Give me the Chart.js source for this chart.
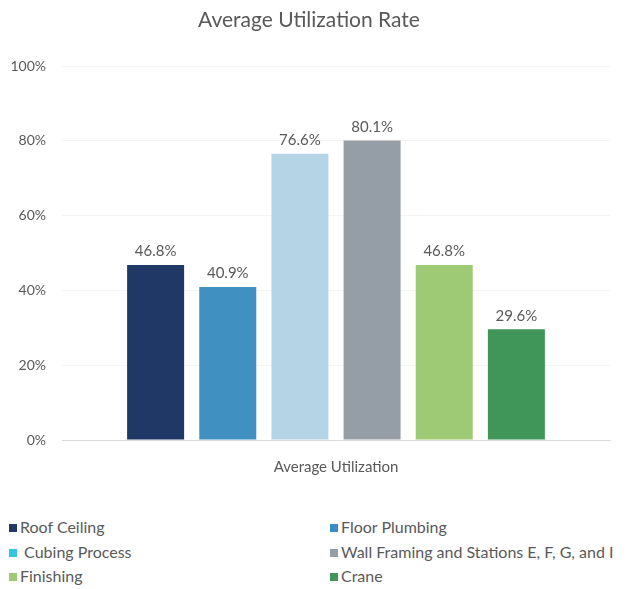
<!DOCTYPE html>
<html>
<head>
<meta charset="utf-8">
<script src="https://cdn.jsdelivr.net/npm/chart.js@4"></script>
<style>
  body { margin: 0; background: #fff; font-family: Lato, "Open Sans", sans-serif; }
  #wrap { position: relative; width: 636px; height: 589px; }
  #chartBox { position: absolute; left: 0; top: 0; width: 636px; height: 486px; }
  #legend { position: absolute; left: 0; top: 518px; width: 636px; }
  .item { position: absolute; font-size: 16px; color: #595959; white-space: nowrap; line-height: 18px; }
  .item span.sw { display: inline-block; width: 8px; height: 8px; margin-right: 3px; vertical-align: 1px; }
</style>
</head>
<body>
<div id="wrap">
  <div id="chartBox"><canvas id="utilChart"></canvas></div>
  <div id="legend"></div>
</div>
<script>
var categories = ['Average Utilization'];
var seriesNames = ['Roof Ceiling', 'Floor Plumbing', ' Cubing Process', 'Wall Framing and Stations E, F, G, and I', 'Finishing', 'Crane'];
var seriesValues = [46.8, 40.9, 76.6, 80.1, 46.8, 29.6];
var yTicks = [0, 20, 40, 60, 80, 100];

var barColors = ['#1f3866', '#4190c2', '#b5d5e7', '#959ea7', '#9fca75', '#3f9658'];
var legendColors = ['#1f3866', '#3a8cc4', '#35c3e6', '#959ea7', '#9fca75', '#3f9658'];

var textGray = '#595959';

// values above each bar
const barLabels = {
    id: 'barLabels',
    afterDatasetsDraw(chart) {
        const ctx = chart.ctx;
        ctx.save();
        ctx.font = '15px Lato, "Open Sans", sans-serif';
        ctx.fillStyle = textGray;
        ctx.textAlign = 'center';
        ctx.textBaseline = 'bottom';
        chart.data.datasets.forEach((ds, i) => {
            const bar = chart.getDatasetMeta(i).data[0];
            ctx.fillText(ds.data[0].toFixed(1) + '%', bar.x, bar.y - 6);
        });
        ctx.restore();
    }
};

const datasets = seriesNames.map((name, i) => ({
    label: name,
    data: [seriesValues[i]],
    backgroundColor: barColors[i],
    categoryPercentage: 0.79,
    barPercentage: 0.79
}));

const chart = new Chart(document.getElementById('utilChart').getContext('2d'), {
    type: 'bar',
    data: { labels: categories, datasets: datasets },
    options: {
        responsive: true,
        maintainAspectRatio: false,
        animation: false,
        layout: { padding: { left: 8, right: 26, top: 0, bottom: 0 } },
        plugins: {
            legend: { display: false },
            tooltip: { enabled: false },
            title: {
                display: true,
                text: 'Average Utilization Rate',
                color: textGray,
                font: { family: 'Lato, "Open Sans", sans-serif', size: 21, weight: 'normal' },
                padding: { top: 8, bottom: 33 }
            }
        },
        scales: {
            x: {
                grid: { display: false },
                border: { color: '#d9d9d9', width: 1 },
                ticks: {
                    color: textGray,
                    padding: 10,
                    font: { family: 'Lato, "Open Sans", sans-serif', size: 15 }
                }
            },
            y: {
                min: 0,
                max: 100,
                afterBuildTicks: (axis) => { axis.ticks = yTicks.map(v => ({ value: v })); },
                afterFit: (axis) => { axis.width = 54; },
                grid: { color: '#f6f3ee', drawTicks: false },
                border: { display: false },
                ticks: {
                    color: textGray,
                    padding: 16,
                    font: { family: 'Lato, "Open Sans", sans-serif', size: 14 },
                    callback: (v) => v + '%'
                }
            }
        }
    },
    plugins: [barLabels]
});

// two-column legend under the chart
var legend = document.getElementById('legend');
seriesNames.forEach((name, i) => {
    const el = document.createElement('div');
    el.className = 'item';
    el.style.left = (i % 2 === 0 ? 9 : 330) + 'px';
    el.style.top = (Math.floor(i / 2) * 24.5) + 'px';
    el.innerHTML = '<span class="sw" style="background:' + legendColors[i] + '"></span>' + name.replace(/^ /, '&nbsp;');
    legend.appendChild(el);
});
</script>
</body>
</html>
